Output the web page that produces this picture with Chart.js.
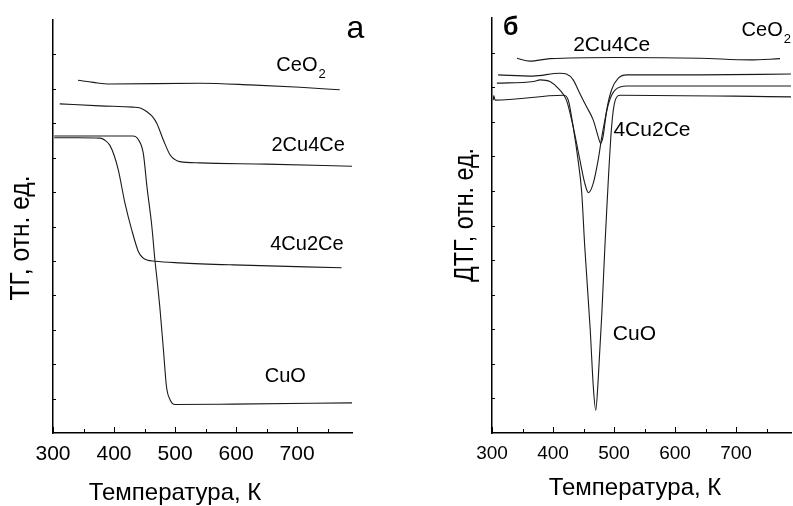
<!DOCTYPE html>
<html>
<head>
<meta charset="utf-8">
<script src="https://cdn.jsdelivr.net/npm/chart.js@4.4.1/dist/chart.umd.min.js"></script>
<style>
  html, body { margin: 0; padding: 0; background: #fff; }
  #wrap { position: relative; width: 793px; height: 506px; }
  .panel { position: absolute; top: 0; height: 506px; }
  #pa { left: 0; width: 400px; }
  #pb { left: 400px; width: 393px; }
</style>
</head>
<body>
<div id="wrap">
  <div class="panel" id="pa"><canvas id="tg"></canvas></div>
  <div class="panel" id="pb"><canvas id="dtg"></canvas></div>
</div>
<script>
// панель а: ТГ, температура (K) и сигнал (отн. ед.)
var tgCeO2T = [341, 366, 393, 541, 623, 705, 770];
var tgCeO2V = [85.4, 84.9, 84.5, 84.7, 84.3, 83.7, 83.1];
var tg2Cu4CeT = [311, 377, 431, 443, 454, 463, 470, 481, 492, 500, 508, 541, 650, 790];
var tg2Cu4CeV = [79.7, 79.2, 78.9, 78.7, 77.8, 76.6, 75.0, 70.9, 67.3, 66.2, 65.7, 65.4, 65.1, 64.6];
var tg4Cu2CeT = [302, 340, 377, 385, 393, 400, 407, 418, 429, 440, 446, 454, 467, 508, 595, 773];
var tg4Cu2CeV = [71.5, 71.5, 71.4, 70.9, 69.7, 67.3, 63.7, 55.6, 49.2, 43.9, 42.6, 41.9, 41.6, 41.2, 40.7, 40.0];
var tgCuOT = [302, 377, 431, 440, 448, 454, 462, 467, 471, 475, 481, 486, 492, 500, 595, 790];
var tgCuOV = [71.9, 71.9, 71.9, 71.0, 67.7, 59.6, 50.0, 41.9, 36.5, 30.6, 20.1, 11.2, 8.0, 6.9, 7.0, 7.3];

// панель б: ДТГ
var dtgCeO2T = [341, 362, 395, 504, 641, 723, 772];
var dtgCeO2V = [90.3, 89.6, 90.2, 90.5, 90.3, 89.9, 90.2];
var dtg2Cu4CeT = [310, 367, 411, 422, 433, 444, 455, 466, 474, 478, 482, 488, 496, 507, 521, 641, 791];
var dtg2Cu4CeV = [86.3, 86.0, 86.7, 86.5, 85.1, 81.8, 78.6, 75.4, 71.4, 69.8, 71.4, 77.8, 82.7, 85.5, 86.3, 86.3, 86.5];
var dtg4Cu2CeT = [308, 368, 379, 395, 411, 422, 433, 444, 452, 458, 466, 474, 480, 491, 502, 521, 791];
var dtg4Cu2CeV = [84.3, 84.7, 85.1, 84.7, 82.7, 80.2, 73.8, 65.8, 60.2, 57.9, 60.2, 65.8, 71.4, 79.4, 82.7, 83.6, 83.6];
var dtgCuOT = [302, 303, 305, 417, 425, 433, 441, 447, 452, 461, 466, 470, 474, 480, 485, 488, 496, 502, 510, 791];
var dtgCuOV = [80.2, 81.3, 80.2, 81.4, 80.2, 73.8, 65.8, 58.0, 44.9, 24.8, 11.2, 5.5, 12.8, 28.8, 44.9, 53.7, 73.8, 80.2, 81.4, 81.0];

var xTicks = [300, 400, 500, 600, 700];
var FONT = '"Liberation Sans", Arial, sans-serif';

function pts(T, V) {
  return T.map(function(t, i) { return { x: t, y: V[i] }; });
}

function line(T, V) {
  return {
    data: pts(T, V),
    borderColor: '#1a1a1a', borderWidth: 1.1,
    pointRadius: 0, fill: false,
    cubicInterpolationMode: 'monotone'
  };
}

// подписи, насечки внутрь, заголовки осей
var decor = {
  id: 'decor',
  afterDraw: function(chart, args, o) {
    var ctx = chart.ctx, xs = chart.scales.x, ys = chart.scales.y, a = chart.chartArea;
    ctx.save();
    ctx.strokeStyle = '#000';
    ctx.lineWidth = 1;
    for (var t = 300; t <= 790; t += 50) {
      var px = Math.round(xs.getPixelForValue(t)) + 0.5;
      var len = t % 100 === 0 ? 6 : 4;
      ctx.beginPath(); ctx.moveTo(px, a.bottom); ctx.lineTo(px, a.bottom - len); ctx.stroke();
    }
    for (var k = 1; k < 12; k++) {
      var py = Math.round(ys.getPixelForValue(k * 100 / 12)) + 0.5;
      ctx.beginPath(); ctx.moveTo(a.left, py); ctx.lineTo(a.left + 3, py); ctx.stroke();
    }

    ctx.fillStyle = '#000';
    ctx.textBaseline = 'middle';
    o.labels.forEach(function(l) {
      ctx.font = (l.bold ? 'bold ' : '') + l.size + 'px ' + FONT;
      ctx.textAlign = 'left';
      var x = xs.getPixelForValue(l.t), y = ys.getPixelForValue(l.v);
      ctx.fillText(l.text, x, y);
      if (l.sub) {
        var w = ctx.measureText(l.text).width;
        ctx.font = Math.round(l.size * 0.65) + 'px ' + FONT;
        ctx.fillText(l.sub, x + w + 1, y + 9);
      }
    });

    // x title
    ctx.font = '24px ' + FONT;
    ctx.textAlign = 'center';
    ctx.fillText('Температура, К', o.xTitle.x, o.xTitle.y);

    // y title, rotated and squeezed along the text
    ctx.font = '27px ' + FONT;
    var tw = ctx.measureText(o.yTitle.text).width;
    ctx.translate(o.yTitle.x, o.yTitle.y);
    ctx.rotate(-Math.PI / 2);
    ctx.scale(o.yTitle.len / tw, 1);
    ctx.fillText(o.yTitle.text, 0, 0);
    ctx.restore();
  }
};

function makeChart(id, datasets, cfg) {
  return new Chart(document.getElementById(id), {
    type: 'line',
    data: { datasets: datasets },
    options: {
      responsive: true, maintainAspectRatio: false, animation: false,
      layout: { padding: { top: cfg.top, right: cfg.right, left: 0, bottom: 0 } },
      plugins: {
        legend: { display: false },
        tooltip: { enabled: false },
        decor: cfg.decor
      },
      scales: {
        x: {
          type: 'linear', min: 300, max: 790,
          grid: { display: false, drawTicks: false },
          border: { display: true, color: '#000', width: 1.5 },
          afterBuildTicks: function(s) { s.ticks = xTicks.map(function(v) { return { value: v }; }); },
          ticks: {
            autoSkip: false, maxRotation: 0, padding: 9, color: '#000',
            font: { family: FONT, size: cfg.tickSize }
          },
          afterFit: function(s) { s.height = 506 - 433; }
        },
        y: {
          min: 0, max: 100,
          grid: { display: false, drawTicks: false },
          border: { display: true, color: '#000', width: 1.5 },
          ticks: { display: false },
          afterFit: function(s) { s.width = cfg.left; }
        }
      }
    },
    plugins: [decor]
  });
}

makeChart('tg', [
  line(tgCeO2T, tgCeO2V),
  line(tg2Cu4CeT, tg2Cu4CeV),
  line(tg4Cu2CeT, tg4Cu2CeV),
  line(tgCuOT, tgCuOV)
], {
  top: 20, right: 48, left: 53, tickSize: 21,
  decor: {
    labels: [
      { text: 'CeO', sub: '2', t: 666, v: 88.9, size: 20 },
      { text: '2Cu4Ce', t: 658, v: 69.6, size: 20 },
      { text: '4Cu2Ce', t: 656, v: 45.6, size: 20 },
      { text: 'CuO', t: 647, v: 13.7, size: 20 },
      { text: 'а', t: 781, v: 97.8, size: 32 }
    ],
    xTitle: { x: 175, y: 493 },
    yTitle: { text: 'ТГ, отн. ед.', x: 22, y: 238, len: 125 }
  }
});

makeChart('dtg', [
  line(dtgCeO2T, dtgCeO2V),
  line(dtg2Cu4CeT, dtg2Cu4CeV),
  line(dtg4Cu2CeT, dtg4Cu2CeV),
  line(dtgCuOT, dtgCuOV)
], {
  top: 18, right: 2, left: 92, tickSize: 19,
  decor: {
    labels: [
      { text: 'б', t: 318, v: 97.6, size: 25, bold: true },
      { text: '2Cu4Ce', t: 433, v: 93.5, size: 21 },
      { text: 'CeO', sub: '2', t: 709, v: 96.9, size: 20 },
      { text: '4Cu2Ce', t: 499, v: 73.0, size: 21 },
      { text: 'CuO', t: 498, v: 23.9, size: 21 }
    ],
    xTitle: { x: 235, y: 488 },
    yTitle: { text: 'ДТГ, отн. ед.', x: 66, y: 215, len: 134 }
  }
});
</script>
</body>
</html>
